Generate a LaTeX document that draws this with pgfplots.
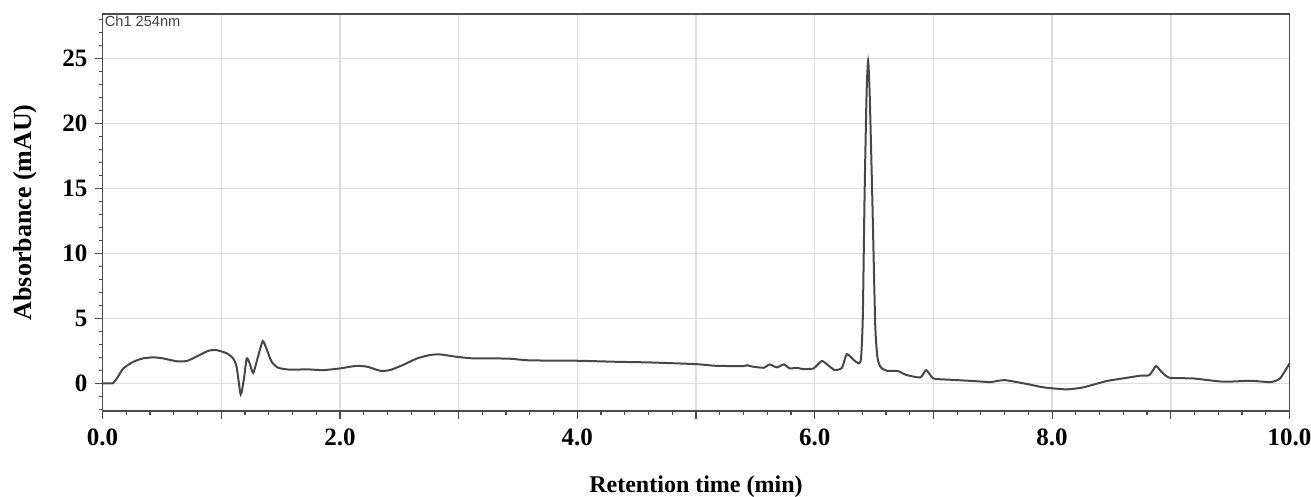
\documentclass[border=0pt]{standalone}
\usepackage{pgfplots}
\pgfplotsset{compat=1.18}
\usepackage{fontspec}
\setmainfont{Liberation Serif}
\newfontfamily\labelsans{Liberation Sans}
\begin{document}
\begin{tikzpicture}
\begin{axis}[
 scale only axis, width=593.5pt, height=198.35pt,
 xmin=0, xmax=10, ymin=-2.1, ymax=28.4,
 xtick={0,1,...,10}, xticklabels={0.0,,2.0,,4.0,,6.0,,8.0,,10.0},
 minor xtick={0,0.2,...,10},
 ytick={0,5,...,25}, minor ytick={-2,-1,...,28},
 tick align=outside, tick pos=left,
 major tick length=4pt, minor tick length=2pt,
 grid=major, major grid style={black!13, line width=0.7pt},
 axis line style={black!70, line width=0.9pt},
 every tick/.style={black!70, line width=0.6pt},
 ticklabel style={font=\bfseries\fontsize{12.5}{13}\selectfont},
 xticklabel style={yshift=-1.5pt},
 /pgf/number format/assume math mode=true,
 xlabel={Retention time (min)}, ylabel={Absorbance (mAU)},
 label style={font=\bfseries\fontsize{12}{14}\selectfont},
 xlabel style={yshift=-8pt},
 ylabel style={yshift=6pt, font=\bfseries\fontsize{13}{15}\selectfont},
 clip=true,
]
\coordinate (ll) at (rel axis cs:0,0);
\coordinate (ur) at (rel axis cs:1,1);
\node[anchor=north west, inner sep=1pt, font=\labelsans\fontsize{7.3}{8}\selectfont, text=black!75] at (rel axis cs:0,1) {Ch1 254nm};
\addplot[black!72, line width=1pt, smooth, tension=0.35] coordinates {
(0,0) (0.05,0) (0.09,0.02) (0.13,0.5) (0.175,1.15) (0.26,1.66) (0.34,1.92) (0.43,2.0)
(0.51,1.92) (0.625,1.7) (0.71,1.72) (0.79,2.05) (0.89,2.5) (0.96,2.56) (1.05,2.3)
(1.10,1.92) (1.13,1.28) (1.164,-0.85) (1.19,0.25) (1.215,1.92) (1.24,1.54) (1.27,0.8)
(1.31,2.05) (1.35,3.25) (1.38,2.69) (1.425,1.66) (1.48,1.2) (1.58,1.05) (1.72,1.08)
(1.86,1.02) (2.0,1.15) (2.14,1.35) (2.23,1.28) (2.34,0.97) (2.42,1.02) (2.53,1.41)
(2.65,1.92) (2.76,2.18) (2.84,2.23) (2.98,2.05) (3.12,1.92) (3.26,1.92) (3.43,1.9)
(3.60,1.77) (4.0,1.74) (4.33,1.66) (4.61,1.61) (5.0,1.48) (5.17,1.35) (5.40,1.33)
(5.43,1.4) (5.47,1.3) (5.57,1.2) (5.62,1.46) (5.68,1.23) (5.74,1.46) (5.79,1.15)
(5.85,1.2) (5.9,1.1) (5.99,1.15) (6.06,1.72) (6.11,1.41) (6.17,1.02) (6.23,1.2)
(6.27,2.25) (6.33,1.79) (6.37,1.54) (6.39,1.9) (6.405,5.0) (6.42,14.35) (6.437,22.3)
(6.45,24.8) (6.463,22.3) (6.485,14.35) (6.51,4.5) (6.53,1.9) (6.56,1.2) (6.61,0.97) (6.70,0.95)
(6.775,0.64) (6.89,0.46) (6.94,1.02) (7.0,0.38) (7.14,0.28) (7.34,0.18) (7.48,0.1)
(7.60,0.25) (7.79,-0.05) (7.93,-0.31) (8.12,-0.46) (8.26,-0.31) (8.46,0.18) (8.63,0.43)
(8.74,0.59) (8.82,0.64) (8.875,1.33) (8.92,0.9) (8.99,0.43) (9.19,0.38) (9.44,0.13)
(9.67,0.2) (9.84,0.1) (9.92,0.38) (10.0,1.54)
};
\end{axis}
\pgfresetboundingbox
\path[use as bounding box] ([shift={(-51.25pt,-43.15pt)}]ll) rectangle ([shift={(10.75pt,7pt)}]ur);
\end{tikzpicture}
\end{document}
